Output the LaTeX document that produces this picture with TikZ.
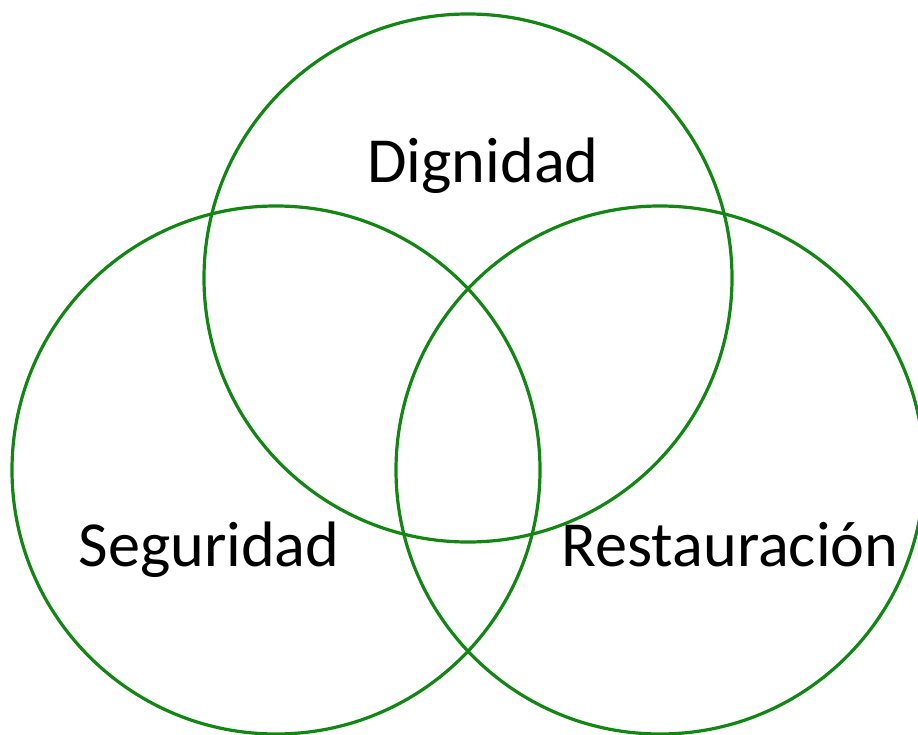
\documentclass[tikz,border=0pt]{standalone}
\usepackage{fontspec}
\setmainfont{Carlito}
\definecolor{venngreen}{RGB}{18,134,18}
\begin{document}
\begin{tikzpicture}[x=1bp,y=-1bp,
  ring/.style={draw=venngreen,line width=3.2bp},
  lbl/.style={anchor=base,inner sep=0pt,font=\fontsize{64.5}{64.5}\selectfont}]
\useasboundingbox (0,0) rectangle (918,735);
\node[ring,circle,minimum size=528bp,inner sep=0pt] (top) at (468,278) {};
\node[ring,circle,minimum size=528bp,inner sep=0pt] (left) at (276,470) {};
\node[ring,circle,minimum size=528bp,inner sep=0pt] (right) at (660,470) {};
\node[lbl] (dig) at (483,183) {Dignidad};
\node[lbl] (seg) at (209,566) {Seguridad};
\node[lbl] (res) at (730,566) {Restauración};
\end{tikzpicture}
\end{document}
